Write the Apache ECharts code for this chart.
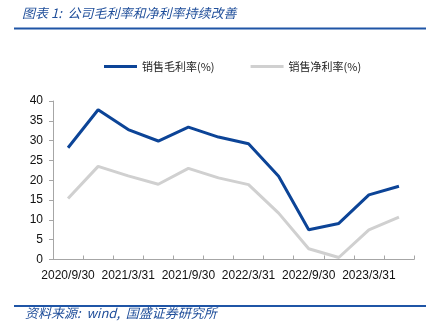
<!DOCTYPE html>
<html>
<head>
<meta charset="utf-8">
<style>
  html, body { margin: 0; padding: 0; background: #fff; }
  #chart { width: 441px; height: 334px; }
</style>
<script src="https://cdn.jsdelivr.net/npm/echarts@6/dist/echarts.min.js"></script>
</head>
<body>
<div id="chart"></div>
<script>
// Quarterly reporting dates
const quarters = [
  '2020/9/30', '2020/12/31', '2021/3/31', '2021/6/30',
  '2021/9/30', '2021/12/31', '2022/3/31', '2022/6/30',
  '2022/9/30', '2022/12/31', '2023/3/31', '2023/6/30'
];
// 销售毛利率 (%)
const grossMargin = [28.2, 37.8, 32.8, 29.9, 33.4, 30.9, 29.2, 21.0, 7.5, 9.1, 16.3, 18.5];
// 销售净利率 (%)
const netMargin = [15.4, 23.5, 21.1, 19.0, 23.0, 20.6, 18.9, 11.7, 2.7, 0.5, 7.5, 10.7];

const seriesNames = ['销售毛利率(%)', '销售净利率(%)'];
const titleText = '图表 1:  公司毛利率和净利率持续改善';
const sourceText = '资料来源:  wind,  国盛证券研究所';

const blue = '#0c4497';
const grey = '#d0d0d0';
const axisGrey = '#a6a6a6';
const cjk = '"Noto Sans CJK SC", sans-serif';
const latin = '"Liberation Sans", Arial, sans-serif';

const chart = echarts.init(document.getElementById('chart'), null, { renderer: 'canvas' });

chart.setOption({
  animation: false,
  backgroundColor: '#fff',
  title: {
    text: titleText,
    left: 22,
    top: 7,
    padding: 0,
    textStyle: {
      fontFamily: cjk,
      fontStyle: 'italic',
      fontWeight: 'normal',
      fontSize: 13,
      color: '#1f4e9a'
    }
  },
  graphic: [
    { type: 'line', shape: { x1: 14, y1: 28.5, x2: 426, y2: 28.5 }, style: { stroke: '#1f55a6', lineWidth: 2 } },
    { type: 'line', shape: { x1: 14, y1: 306, x2: 426, y2: 306 }, style: { stroke: '#1f55a6', lineWidth: 2 } },
    {
      type: 'text', left: 25, top: 307,
      style: { text: sourceText, font: 'italic 13px ' + cjk, fill: '#1f4e9a' }
    }
  ],
  legend: {
    top: 61,
    left: 104,
    padding: 0,
    itemGap: 36,
    itemWidth: 33,
    itemHeight: 3,
    icon: 'rect',
    textStyle: { fontFamily: cjk, fontSize: 11, color: '#222' },
    data: seriesNames
  },
  grid: { left: 53, right: 27, top: 101, bottom: 74.5, containLabel: false },
  xAxis: {
    type: 'category',
    data: quarters,
    boundaryGap: true,
    axisLine: { lineStyle: { color: axisGrey, width: 1 } },
    axisTick: { show: true, inside: true, length: 4, alignWithLabel: false, interval: 0, lineStyle: { color: axisGrey } },
    axisLabel: { interval: 1, fontFamily: latin, fontSize: 12, color: '#111', margin: 10 }
  },
  yAxis: {
    type: 'value',
    min: 0, max: 40, interval: 5,
    axisLine: { show: true, lineStyle: { color: axisGrey, width: 1 } },
    axisTick: { show: true, inside: false, length: 4, lineStyle: { color: axisGrey } },
    splitLine: { show: false },
    axisLabel: { fontFamily: latin, fontSize: 12, color: '#111', margin: 10 }
  },
  series: [
    {
      name: seriesNames[0], type: 'line', data: grossMargin,
      symbol: 'none', lineStyle: { color: blue, width: 3 }, itemStyle: { color: blue }, z: 3
    },
    {
      name: seriesNames[1], type: 'line', data: netMargin,
      symbol: 'none', lineStyle: { color: grey, width: 3 }, itemStyle: { color: grey }, z: 2
    }
  ]
});
</script>
</body>
</html>
